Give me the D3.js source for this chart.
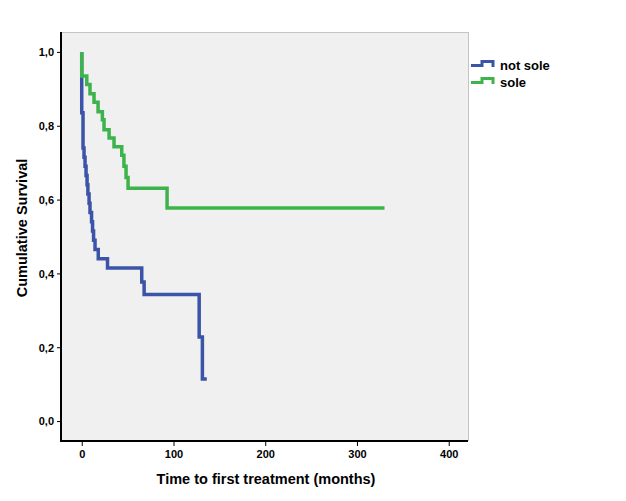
<!DOCTYPE html>
<html><head><meta charset="utf-8">
<script src="https://cdn.jsdelivr.net/npm/d3@7"></script>
<style>body{margin:0;background:#fff}svg{display:block}text{font-family:"Liberation Sans",Arial,sans-serif;font-weight:bold}</style>
</head><body>
<script>
const xTicks = [0, 100, 200, 300, 400];
const yTicks = [0, 0.2, 0.4, 0.6, 0.8, 1.0];
const seriesNames = ["not sole", "sole"];
const timesNotSole = [0, 0, 1.4, 2.5, 3.6, 4.7, 5.8, 6.7, 8, 9, 10.7, 11.8, 12.9, 14.5, 18, 28.1, 65.4, 68, 128, 131.5, 136.3];
const survNotSole  = [1, 0.835, 0.74, 0.715, 0.69, 0.665, 0.64, 0.615, 0.59, 0.565, 0.54, 0.515, 0.49, 0.465, 0.44, 0.415, 0.377, 0.343, 0.228, 0.114, 0.114];
const timesSole = [0, 0, 5.5, 9, 13.4, 17.8, 22.5, 24.3, 29.8, 35.2, 43.6, 46, 48.3, 50.5, 93, 330];
const survSole  = [1, 0.935, 0.912, 0.887, 0.864, 0.838, 0.816, 0.789, 0.767, 0.743, 0.72, 0.69, 0.66, 0.631, 0.577, 0.577];
const colors = ["#3b54a8", "#3cb44b"];

const W = 626, H = 501;
const L = 61, R = 468, T = 32, B = 441;
const svg = d3.select("body").append("svg").attr("width", W).attr("height", H);
const x = d3.scaleLinear().domain([-22.6, 421]).range([L, R]);
const y = d3.scaleLinear().domain([-0.054, 1.054]).range([B, T]);

svg.append("rect").attr("x", L).attr("y", T).attr("width", R - L).attr("height", B - T).attr("fill", "#f0f0f0");
svg.append("line").attr("x1", L).attr("x2", R).attr("y1", T + 0.5).attr("y2", T + 0.5).attr("stroke", "#c4c4c4");
svg.append("line").attr("x1", R + 0.5).attr("x2", R + 0.5).attr("y1", T).attr("y2", B).attr("stroke", "#c4c4c4");

const line = d3.line().x(d => x(d[0])).y(d => y(d[1])).curve(d3.curveStepAfter);
const series = [d3.zip(timesNotSole, survNotSole), d3.zip(timesSole, survSole)];
series.forEach((s, i) => {
  svg.append("path").attr("d", line(s)).attr("fill", "none").attr("stroke", colors[i]).attr("stroke-width", 3.5);
});

const xAxis = svg.append("g").attr("transform", `translate(0,${B})`)
  .call(d3.axisBottom(x).tickValues(xTicks).tickSize(5).tickSizeOuter(0).tickFormat(d3.format("d")));
const yAxis = svg.append("g").attr("transform", `translate(${L},0)`)
  .call(d3.axisLeft(y).tickValues(yTicks).tickSize(4).tickSizeOuter(0).tickFormat(d => d.toFixed(1).replace(".", ",")));
[xAxis, yAxis].forEach(g => {
  g.select(".domain").remove();
  g.selectAll(".tick line").attr("stroke", "#000").attr("stroke-width", 1);
  g.selectAll(".tick text").attr("font-size", 11).attr("font-weight", "bold").attr("fill", "#000")
   .attr("font-family", '"Liberation Sans",Arial,sans-serif');
});
xAxis.selectAll(".tick text").attr("dy", "0").attr("y", 17);
yAxis.selectAll(".tick text").attr("x", -7).attr("dy", "0.35em");

svg.append("line").attr("x1", L).attr("x2", L).attr("y1", T).attr("y2", B + 1).attr("stroke", "#000").attr("stroke-width", 2);
svg.append("line").attr("x1", L - 1).attr("x2", R).attr("y1", B).attr("y2", B).attr("stroke", "#000").attr("stroke-width", 2);

svg.append("text").attr("x", 266).attr("y", 484).attr("text-anchor", "middle").attr("font-size", 14.5).text("Time to first treatment (months)");
svg.append("text").attr("transform", "translate(27,228) rotate(-90)").attr("text-anchor", "middle").attr("font-size", 14.5).text("Cumulative Survival");

seriesNames.forEach((n, i) => {
  const oy = 61.5 + i * 17;
  svg.append("path").attr("d", `M471,${oy + 4}H482V${oy}H493V${oy + 5.5}`).attr("fill", "none").attr("stroke", colors[i]).attr("stroke-width", 3);
  svg.append("text").attr("x", 500).attr("y", oy + 8).attr("font-size", 13).text(n);
});
</script>
</body></html>
